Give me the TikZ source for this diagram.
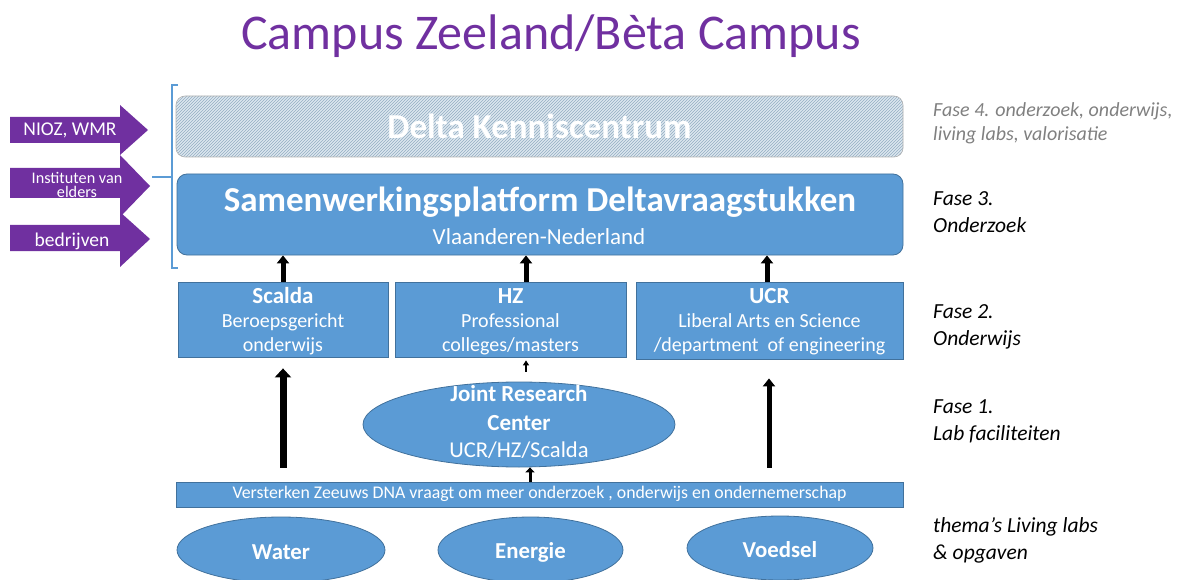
\documentclass[tikz,border=0pt]{standalone}
\usepackage{fontspec}
\setmainfont{Carlito}
\usetikzlibrary{arrows.meta,patterns,shapes.geometric}
\definecolor{bl}{HTML}{5B9BD5}
\definecolor{bd}{HTML}{41719C}
\definecolor{pu}{HTML}{7030A0}
\definecolor{hbg}{HTML}{DDE7EF}
\definecolor{hln}{HTML}{93ADC2}
\definecolor{gr}{HTML}{808080}
\begin{document}
\begin{tikzpicture}[x=1pt,y=-1pt,
  bx/.style={rectangle, fill=bl, draw=bd, line width=0.8pt, inner sep=0pt},
  el/.style={ellipse, fill=bl, draw=bd, line width=0.8pt, inner sep=0pt},
  wt/.style={text=white, inner sep=0pt, align=center},
  fase/.style={anchor=west, inner sep=0pt, align=left, font=\fontsize{21.5}{27}\selectfont\itshape},
  upbig/.style={line width=7pt, -{Triangle[length=9pt,width=16pt]}},
  upmid/.style={line width=5pt, -{Triangle[length=8pt,width=12pt]}},
  upsmall/.style={line width=2pt, -{Triangle[length=5pt,width=6pt]}},
  upshort/.style={line width=3pt, -{Triangle[length=5pt,width=9pt]}},
  pfill/.style={fill=pu}
]
\useasboundingbox (0,0) rectangle (1178,580);
% title
\node[text=pu, inner sep=0pt, font=\fontsize{50}{60}\selectfont] (title) at (551,36) {Campus Zeeland/Bèta Campus};

% bracket
\draw[bl, line width=1.5pt] (178,85) -- (172,85) -- (172,268) -- (178,268);
\draw[bl, line width=1.5pt] (172,177) -- (152,177);

% left purple arrows
\fill[pfill] (10,117) -- (120,117) -- (120,105) -- (148,130) -- (120,155) -- (120,143) -- (10,143) -- cycle;
\fill[pfill] (10,168) -- (120,168) -- (120,155) -- (150,186) -- (120,217) -- (120,198) -- (10,198) -- cycle;
\fill[pfill] (10,225) -- (120,225) -- (120,212) -- (150,239) -- (120,267) -- (120,251) -- (10,251) -- cycle;
\node[wt, font=\fontsize{19.5}{22}\selectfont] (nioz) at (70,130) {NIOZ, WMR};
\node[wt, font=\fontsize{16.2}{14.5}\selectfont] (inst) at (77,185) {Instituten van\\elders};
\node[wt, font=\fontsize{19.5}{22}\selectfont] (bedr) at (72,241) {bedrijven};

% Delta Kenniscentrum (hatched)
\node[rectangle, rounded corners=9pt, minimum width=727pt, minimum height=61pt, inner sep=0pt,
      draw=gray!60, line width=0.6pt, preaction={fill=hbg}, pattern=north east lines, pattern color=hln,
      text=white, font=\fontsize{35}{40}\selectfont\bfseries] (dk) at (539.5,126.5) {Delta Kenniscentrum};

% Samenwerkingsplatform
\node[bx, rounded corners=10pt, minimum width=726pt, minimum height=81pt] (sam) at (540,214.5) {};
\node[wt, font=\fontsize{35}{40}\selectfont\bfseries] (samt) at (540,202) {Samenwerkingsplatform Deltavraagstukken};
\node[wt, font=\fontsize{23}{26}\selectfont] (vn) at (539,237) {Vlaanderen-Nederland};

% three boxes
\node[bx, minimum width=210pt, minimum height=75pt] (scalda) at (283,319.5) {};
\node[bx, minimum width=231pt, minimum height=75pt] (hz) at (510.5,319.5) {};
\node[bx, minimum width=267pt, minimum height=77pt] (ucr) at (769.5,320.5) {};
\node[wt, font=\fontsize{23}{26}\selectfont\bfseries] (scaldat) at (283,296) {Scalda};
\node[wt, font=\fontsize{20}{24}\selectfont] (scaldab) at (283,334) {Beroepsgericht\\onderwijs};
\node[wt, font=\fontsize{23}{26}\selectfont\bfseries] (hzt) at (510.5,296) {HZ};
\node[wt, font=\fontsize{20}{24}\selectfont] (hzb) at (510.5,334) {Professional\\colleges/masters};
\node[wt, font=\fontsize{23}{26}\selectfont\bfseries] (ucrt) at (769.5,296) {UCR};
\node[wt, font=\fontsize{20}{24}\selectfont] (ucrb) at (769.5,334) {Liberal Arts en Science\\/department\ \ of engineering};

% arrows to samenwerkingsplatform
\coordinate (xa) at (283,0);
\coordinate (xb) at (526,0);
\coordinate (xc) at (767,0);
\coordinate (xd) at (769,0);
\coordinate (xe) at (530,0);
\draw[upmid] (scalda.north -| xa) -- (sam.south -| xa);
\draw[upmid] (hz.north -| xb) -- (sam.south -| xb);
\draw[upmid] (ucr.north -| xc) -- (sam.south -| xc);

% joint research center
\node[el, minimum width=312pt, minimum height=85pt] (jrc) at (519,424.5) {};
\node[wt, font=\fontsize{23}{29}\selectfont\bfseries] (jrct) at (519,408) {Joint Research\\Center};
\node[wt, font=\fontsize{22.6}{26}\selectfont] (jrcb) at (519,450) {UCR/HZ/Scalda};
\draw[upsmall] ([yshift=10pt]jrc.north -| xb) -- ([yshift=-3pt]hz.south -| xb);

% strip
\node[bx, minimum width=727pt, minimum height=25pt] (strip) at (539.5,494.5) {};
\node[wt, font=\fontsize{17.8}{20}\selectfont] (stript) at (539.5,494) {Versterken Zeeuws DNA vraagt om meer onderzoek , onderwijs en ondernemerschap};
\draw[upshort] (strip.north -| xe) -- (jrc.south -| xe);
\draw[upbig] ([yshift=14pt]strip.north -| xa) -- ([yshift=-11pt]scalda.south -| xa);
\draw[upmid] ([yshift=14pt]strip.north -| xd) -- ([yshift=-19pt]ucr.south -| xd);

% bottom ellipses
\node[el, minimum width=208pt, minimum height=66pt] (water) at (281,550) {};
\node[el, minimum width=185pt, minimum height=66pt] (energie) at (530.5,550) {};
\node[el, minimum width=186pt, minimum height=64pt] (voedsel) at (780,548) {};
\node[wt, font=\fontsize{22.8}{26}\selectfont\bfseries] (watert) at (281,552) {Water};
\node[wt, font=\fontsize{22.8}{26}\selectfont\bfseries] (energiet) at (530.5,552) {Energie};
\node[wt, font=\fontsize{22.8}{26}\selectfont\bfseries] (voedselt) at (780,550) {Voedsel};

% right labels
\node[fase, text=gr, font=\fontsize{20}{24}\selectfont\itshape] (f4) at (933,123) {Fase 4. onderzoek, onderwijs,\\living labs, valorisatie};
\node[fase] (f3) at (933,212) {Fase 3.\\Onderzoek};
\node[fase] (f2) at (933,327) {Fase 2.\\Onderwijs};
\node[fase] (f1) at (933,421) {Fase 1.\\Lab faciliteiten};
\node[fase] (f0) at (933,540) {thema’s Living labs\\\& opgaven};
\end{tikzpicture}
\end{document}
